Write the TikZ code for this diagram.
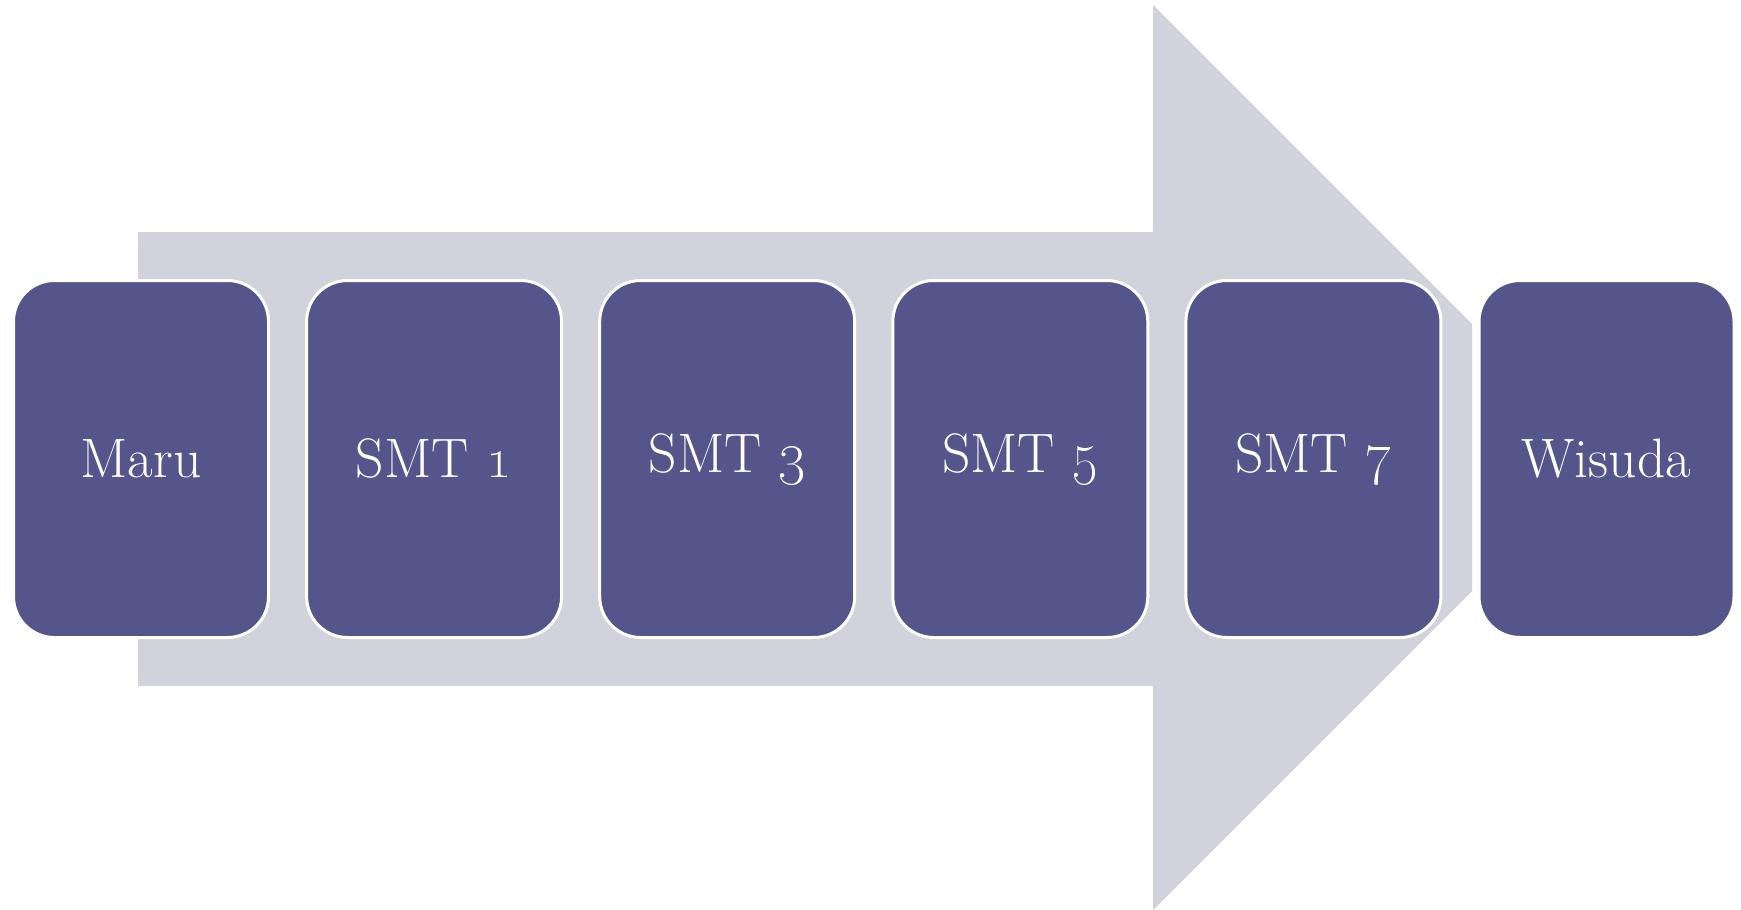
\documentclass[tikz,border=0pt]{standalone}
\definecolor{arrowgray}{HTML}{D1D2DB}
\definecolor{boxblue}{HTML}{54558A}
\tikzset{
  stagebox/.style={rectangle, rounded corners=20.5pt, fill=boxblue, draw=white,
    line width=1.5pt, minimum width=127.5pt, minimum height=178.5pt,
    inner sep=0pt, text=white,
    font=\fontsize{27.8}{33}\selectfont},
}
\begin{document}
\begin{tikzpicture}[x=0.5pt,y=-0.5pt]
\useasboundingbox (0,0) rectangle (1741,910);
\fill[arrowgray] (138,232) -- (1153,232) -- (1153,5) -- (1472,324) -- (1472,591)
  -- (1153,910) -- (1153,686) -- (138,686) -- cycle;
\node[stagebox] (maru) at (141,459) {Maru};
\node[stagebox] (smt1) at (434.1,459) {SMT \oldstylenums{1}};
\node[stagebox] (smt3) at (727.2,459) {SMT \oldstylenums{3}};
\node[stagebox] (smt5) at (1020.3,459) {SMT \oldstylenums{5}};
\node[stagebox] (smt7) at (1313.4,459) {SMT \oldstylenums{7}};
\node[stagebox] (wisuda) at (1606.5,459) {Wisuda};
\end{tikzpicture}
\end{document}
